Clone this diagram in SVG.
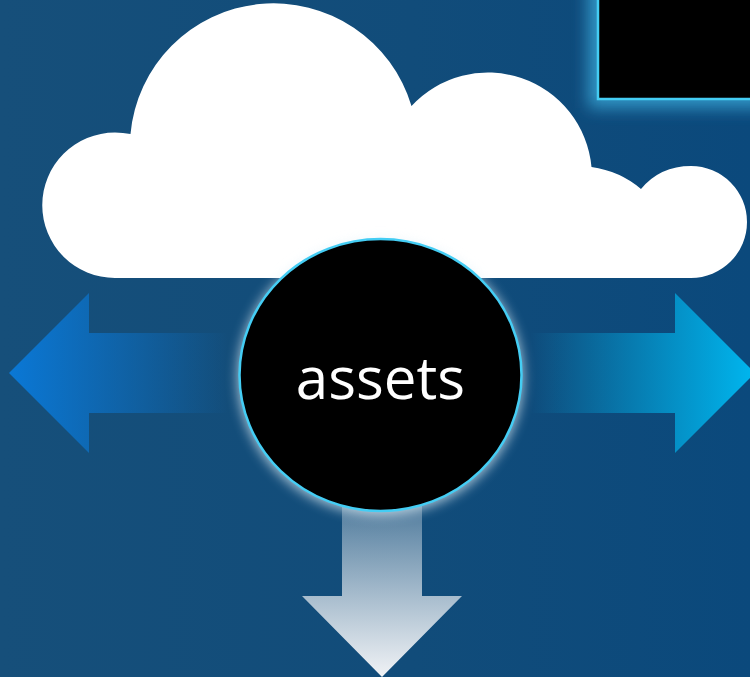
<svg xmlns="http://www.w3.org/2000/svg" width="750" height="677" viewBox="0 0 750 677">
<defs>
<linearGradient id="bg" x1="0" y1="0" x2="1" y2="0"><stop offset="0" stop-color="#164f7a"/><stop offset="0.55" stop-color="#114c7a"/><stop offset="1" stop-color="#0b497c"/></linearGradient>
<linearGradient id="la" gradientUnits="userSpaceOnUse" x1="9" y1="0" x2="228" y2="0"><stop offset="0" stop-color="#0a78d6"/><stop offset="1" stop-color="#0a78d6" stop-opacity="0"/></linearGradient>
<linearGradient id="ra" gradientUnits="userSpaceOnUse" x1="530" y1="0" x2="750" y2="0"><stop offset="0" stop-color="#00b4ec" stop-opacity="0"/><stop offset="1" stop-color="#00b4ec"/></linearGradient>
<linearGradient id="da" gradientUnits="userSpaceOnUse" x1="0" y1="490" x2="0" y2="677"><stop offset="0" stop-color="#ffffff" stop-opacity="0.2"/><stop offset="1" stop-color="#f0f2f5"/></linearGradient>
<filter id="glow" x="-30%" y="-30%" width="160%" height="160%"><feGaussianBlur stdDeviation="8"/></filter>
<filter id="glow2" x="-25%" y="-25%" width="150%" height="150%"><feGaussianBlur stdDeviation="6"/></filter>
<style>
.edge{stroke:#44cdf4;stroke-width:2.5}
.label{font-family:"Open Sans","Noto Sans",sans-serif;font-size:58.300px;font-weight:400;fill:#fff;text-anchor:middle}
</style>
</defs>
<rect width="750" height="677" fill="url(#bg)"/>
<g id="panel">
<rect x="588" y="-20" width="180" height="128" fill="#3aa8d8" opacity=".8" filter="url(#glow)"/>
<rect x="598" y="-10" width="170" height="109" fill="#000" class="edge"/>
</g>
<g id="cloud">
<path d="M115 278A72.750 72.750 0 0 1 115 132.500Q123 132.500 130.500 134A143.800 143.800 0 0 1 411.500 106A104 104 0 0 1 591.500 167Q620 171 641 189Q660 166 691 166A56 56 0 0 1 691 278Z" fill="#fff"/>
</g>
<g id="connectors">
<path d="M228 333H89V293L9 373L89 453V413H228Z" fill="url(#la)"/>
<path d="M530 333H675V293L755 373L675 453V413H530Z" fill="url(#ra)"/>
<path d="M342 490H422V596H462L382 677L302 596H342Z" fill="url(#da)"/>
</g>
<g id="assets">
<ellipse cx="380.500" cy="377" rx="143" ry="138" fill="#e4f2f8" opacity=".7" filter="url(#glow2)"/>
<ellipse cx="380.500" cy="375" rx="141" ry="136" fill="#000" class="edge"/>
<text x="380.500" y="399" class="label">assets</text>
</g>
</svg>
